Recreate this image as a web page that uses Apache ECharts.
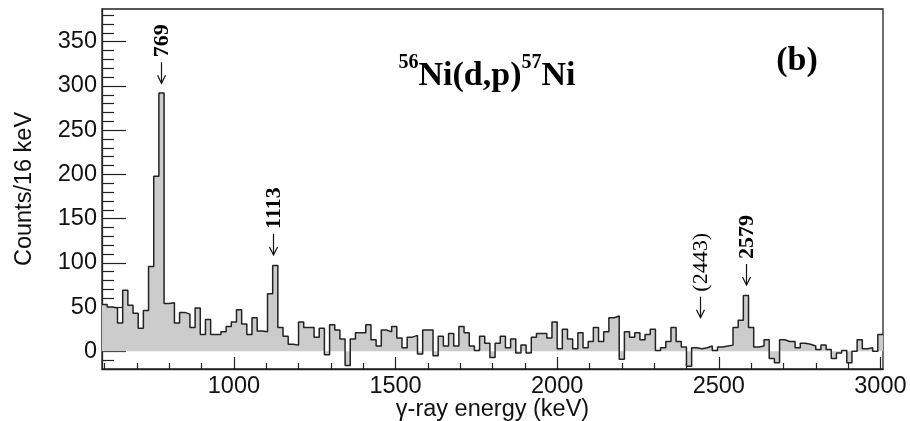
<!DOCTYPE html>
<html><head><meta charset="utf-8">
<script src="https://cdn.jsdelivr.net/npm/echarts@6/dist/echarts.min.js"></script>
<style>html,body{margin:0;padding:0;background:#fff}#c{width:910px;height:421px}</style>
</head><body><div id="c"></div>
<script>
// Histogram binning (keV)
const BIN_START = 592;
const BIN_WIDTH = 16;
// Counts per 16 keV bin (bins starting at 592 keV)
const counts = [
  53,50,49,32,69,52,43,26,46,96,
  198,292,54,55,32,44,42,27,49,19,
  36,19,19,22,28,33,47,31,19,38,
  23,22,65,97,27,17,8,7,33,27,
  27,16,26,-4,30,24,14,-16,14,21,
  21,30,13,6,24,22,28,15,4,16,
  18,-3,24,24,-5,17,6,20,6,28,
  21,6,1,17,9,-7,9,17,4,14,
  -2,7,-2,16,20,20,15,33,3,25,
  14,3,21,4,11,27,11,22,38,40,
  -9,22,16,21,13,19,25,1,4,11,
  27,11,5,-17,4,3,4,6,1,5,
  6,7,27,35,63,27,5,6,13,-8,
  -13,13,11,11,4,9,8,6,2,7,
  2,-8,-2,1,-13,0,13,3,4,0,
  19
];
const xMajorTicks = [1000,1500,2000,2500,3000];
const xMinorTicks = [600,700,800,900,1100,1200,1300,1400,1600,1700,1800,1900,2100,2200,2300,2400,2600,2700,2800,2900];
const yMajorTicks = [0,50,100,150,200,250,300,350];
const yMinorTicks = [-10,10,20,30,40,60,70,80,90,110,120,130,140,160,170,180,190,210,220,230,240,260,270,280,290,310,320,330,340,360,370,380];
// Peak annotations: energy, value at arrow tip, label, bold
const peakEnergies = [776, 1122, 2442, 2584];
const peakTipValues = [303, 109, 38, 75];
const peakTexts = ['769', '1113', '(2443)', '2579'];
const peakBold = [true, true, false, true];

const X_MIN = 592, X_MAX = 3008, Y_MIN = -20, Y_MAX = 387;

const pts = counts.map((v, i) => [BIN_START + i * BIN_WIDTH, v]);
pts.push([BIN_START + counts.length * BIN_WIDTH, counts[counts.length - 1]]);

const chart = echarts.init(document.getElementById('c'), null, {renderer: 'canvas'});
const SANS = '"Liberation Sans", Arial, Helvetica, sans-serif';
const SERIF = '"Liberation Serif", "Times New Roman", serif';
const FRAME = '#222';
const FS = 23.5;
const plain = v => String(v);

chart.setOption({
  animation: false,
  backgroundColor: '#fff',
  grid: {left: 102, right: 27, top: 9, bottom: 52, containLabel: false, outerBoundsMode: 'none',
         show: true, borderColor: FRAME, borderWidth: 1.3, backgroundColor: 'transparent'},
  xAxis: [
    {type: 'value', min: X_MIN, max: X_MAX, position: 'bottom',
     axisLine: {show: true, onZero: false, lineStyle: {color: FRAME, width: 1.3}},
     axisTick: {show: true, inside: true, length: 12, customValues: xMajorTicks, lineStyle: {color: FRAME, width: 1.2}},
     axisLabel: {show: true, customValues: xMajorTicks, formatter: plain, fontFamily: SANS, fontSize: FS, color: '#111', margin: 6},
     splitLine: {show: false},
     name: 'γ-ray energy (keV)', nameLocation: 'middle', nameGap: 29, nameMoveOverlap: false,
     nameTextStyle: {fontFamily: SANS, fontSize: FS, color: '#111', verticalAlign: 'top'}},
    {type: 'value', min: X_MIN, max: X_MAX, position: 'bottom',
     axisLine: {show: false, onZero: false},
     axisTick: {show: true, inside: true, length: 6, customValues: xMinorTicks, lineStyle: {color: FRAME, width: 1.2}},
     axisLabel: {show: false}, splitLine: {show: false}}
  ],
  yAxis: [
    {type: 'value', min: Y_MIN, max: Y_MAX, position: 'left',
     axisLine: {show: true, onZero: false, lineStyle: {color: FRAME, width: 1.3}},
     axisTick: {show: true, inside: true, length: 24, customValues: yMajorTicks, lineStyle: {color: FRAME, width: 1.2}},
     axisLabel: {show: true, customValues: yMajorTicks, formatter: plain, fontFamily: SANS, fontSize: FS, color: '#111', margin: 5},
     splitLine: {show: false},
     name: 'Counts/16 keV', nameLocation: 'middle', nameGap: 65, nameMoveOverlap: false,
     nameTextStyle: {fontFamily: SANS, fontSize: FS, color: '#111'}},
    {type: 'value', min: Y_MIN, max: Y_MAX, position: 'left',
     axisLine: {show: false, onZero: false},
     axisTick: {show: true, inside: true, length: 12, customValues: yMinorTicks, lineStyle: {color: FRAME, width: 1.2}},
     axisLabel: {show: false}, splitLine: {show: false}}
  ],
  series: [{
    type: 'line', xAxisIndex: 0, yAxisIndex: 0,
    data: pts, step: 'end', showSymbol: false, symbol: 'none', clip: true,
    lineStyle: {color: '#222', width: 1.5},
    areaStyle: {color: '#cccccc', opacity: 1, origin: 'auto'},
    z: 1
  }]
});

const graphics = [];
const ARROW_LEN = 21, GAP = 5;
for (let i = 0; i < peakEnergies.length; i++) {
  const p = chart.convertToPixel({xAxisIndex: 0, yAxisIndex: 0}, [peakEnergies[i], peakTipValues[i]]);
  const x = Math.round(p[0]) + 0.5, tip = p[1];
  const st = {stroke: '#111', lineWidth: 1.2, fill: 'none'};
  graphics.push({type: 'line', z: 10, shape: {x1: x, y1: tip - ARROW_LEN, x2: x, y2: tip}, style: st});
  graphics.push({type: 'polyline', z: 10, shape: {points: [[x - 4, tip - 8], [x, tip], [x + 4, tip - 8]]}, style: st});
  graphics.push({
    type: 'text', x: x + 1, y: tip - ARROW_LEN - GAP, rotation: Math.PI / 2, z: 10,
    style: {
      text: peakTexts[i], fontFamily: SERIF, fontSize: 22, fontWeight: peakBold[i] ? 'bold' : 'normal',
      fill: '#000', align: 'left', verticalAlign: 'middle', textAlign: 'left', textVerticalAlign: 'middle'
    }
  });
}
graphics.push({
  type: 'text', x: 487, y: 73, z: 10,
  style: {
    text: '{s|56}{m|Ni(d,p)}{s|57}{m|Ni}',
    align: 'center', verticalAlign: 'middle', textAlign: 'center', textVerticalAlign: 'middle',
    rich: {
      m: {fontFamily: SERIF, fontWeight: 'bold', fontSize: 34, lineHeight: 40, fill: '#000', color: '#000', verticalAlign: 'bottom'},
      s: {fontFamily: SERIF, fontWeight: 'bold', fontSize: 20, lineHeight: 24, fill: '#000', color: '#000', verticalAlign: 'top'}
    }
  }
});
graphics.push({
  type: 'text', x: 797, y: 61, z: 10,
  style: {text: '(b)', fontFamily: SERIF, fontWeight: 'bold', fontSize: 34, fill: '#000',
          align: 'center', verticalAlign: 'middle', textAlign: 'center', textVerticalAlign: 'middle'}
});
chart.setOption({graphic: graphics});
</script></body></html>
